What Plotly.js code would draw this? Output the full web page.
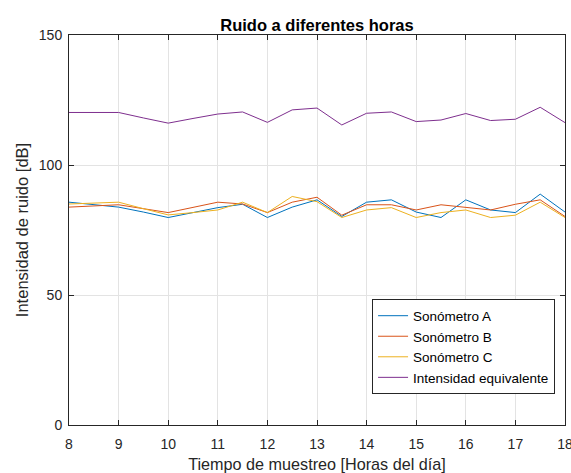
<!DOCTYPE html>
<html>
<head>
<meta charset="utf-8">
<script src="https://cdn.plot.ly/plotly-3.0.1.min.js"></script>
<style>html,body{margin:0;padding:0;background:#fff;}#chart{width:571px;height:473px;}</style>
</head>
<body>
<div id="chart"></div>
<script>
const hours = [8, 8.5, 9, 9.5, 10, 10.5, 11, 11.5, 12, 12.5, 13, 13.5, 14, 14.5, 15, 15.5, 16, 16.5, 17, 17.5, 18];
const sonometroA = [85.7, 84.8, 83.8, 81.9, 79.8, 81.7, 83.6, 84.9, 79.8, 83.8, 86.6, 80.2, 85.7, 86.6, 81.9, 79.8, 86.6, 82.7, 81.7, 88.8, 81.9];
const sonometroB = [83.8, 84.3, 84.7, 83.2, 81.7, 83.7, 85.7, 85.0, 81.7, 85.7, 87.6, 80.7, 84.7, 84.7, 82.7, 84.7, 83.8, 82.7, 84.9, 86.6, 80.2];
const sonometroC = [85.0, 85.4, 85.7, 83.2, 80.8, 81.7, 82.7, 85.7, 81.7, 87.9, 85.9, 79.8, 82.7, 83.6, 79.8, 81.7, 82.7, 79.8, 80.7, 85.7, 79.8];
const intensidadEq = [120.2, 120.2, 120.2, 118.1, 116.1, 117.9, 119.6, 120.4, 116.4, 121.2, 121.9, 115.4, 119.9, 120.4, 116.7, 117.3, 119.8, 117.1, 117.6, 122.2, 116.3];
const seriesNames = ["Sonómetro A", "Sonómetro B", "Sonómetro C", "Intensidad equivalente"];
const seriesColors = ["#0072BD", "#D95319", "#EDB120", "#7E2F8E"];
const xTicks = [8, 9, 10, 11, 12, 13, 14, 15, 16, 17, 18];
const yTicks = [0, 50, 100, 150];

const allY = [sonometroA, sonometroB, sonometroC, intensidadEq];
const traces = allY.map((ys, i) => ({
  x: hours, y: ys, type: 'scatter', mode: 'lines', name: seriesNames[i],
  line: {color: seriesColors[i], width: 1}
}));

const fam = '"Liberation Sans", Arial, Helvetica, sans-serif';
const axisCommon = {
  showline: true, linecolor: '#262626', linewidth: 1, mirror: 'ticks',
  ticks: 'inside', ticklen: 5, tickcolor: '#262626', tickwidth: 1,
  showgrid: true, gridcolor: '#e3e3e3', gridwidth: 1, zeroline: false,
  tickfont: {family: fam, size: 14, color: '#262626'}
};

const layout = {
  width: 571, height: 473,
  margin: {l: 69.3, r: 5.7, t: 35, b: 47.7, pad: 0},
  paper_bgcolor: '#fff', plot_bgcolor: '#fff',
  font: {family: fam, color: '#262626'},
  title: {text: '<b>Ruido a diferentes horas</b>', font: {family: fam, size: 16.5, color: '#000'},
          x: 0.5, xref: 'paper', xanchor: 'center', y: 1 - 25/473, yanchor: 'middle'},
  xaxis: Object.assign({}, axisCommon, {
    range: [8, 18], tickvals: xTicks, ticktext: xTicks.map(String),
    ticklabeloverflow: 'allow', ticklabelstandoff: 6,
    title: {text: 'Tiempo de muestreo [Horas del día]', font: {family: fam, size: 16.2, color: '#262626'}, standoff: 8}
  }),
  yaxis: Object.assign({}, axisCommon, {
    range: [0, 150], tickvals: yTicks, ticktext: yTicks.map(String),
    ticklabelstandoff: 3,
    title: {text: 'Intensidad de ruido [dB]', font: {family: fam, size: 16.5, color: '#262626'}, standoff: 6}
  }),
  showlegend: true,
  legend: {
    x: 0.611, y: 0.322, xanchor: 'left', yanchor: 'top',
    bgcolor: '#fff', bordercolor: '#262626', borderwidth: 1,
    font: {family: fam, size: 13.5, color: '#000'},
    tracegroupgap: 0
  }
};

Plotly.newPlot('chart', traces, layout, {staticPlot: true, displayModeBar: false});
</script>
</body>
</html>
